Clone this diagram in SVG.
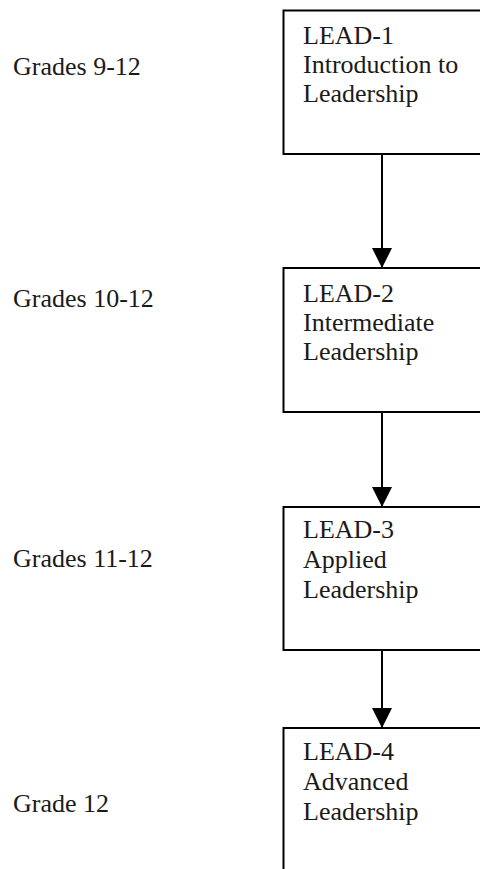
<svg xmlns="http://www.w3.org/2000/svg" width="480" height="869" viewBox="0 0 480 869">
<style>
.box{fill:#fff;stroke:#000;stroke-width:2}
.t{font-family:"Liberation Serif","Times New Roman",serif;font-size:26px;fill:#1a1a1a}
.c{stroke:#000;stroke-width:2;fill:none}
</style>
<defs>
<marker id="ah" viewBox="0 0 20 20" refX="20" refY="10" markerWidth="20" markerHeight="20" markerUnits="userSpaceOnUse" orient="auto">
<path d="M0,0 L20,10 L0,20 Z" fill="#000"/>
</marker>
</defs>
<rect width="480" height="869" fill="#fff"/>
<g id="labels">
<text class="t" x="13" y="75">Grades 9-12</text>
<text class="t" x="13" y="307">Grades 10-12</text>
<text class="t" x="13" y="567">Grades 11-12</text>
<text class="t" x="13" y="812">Grade 12</text>
</g>
<g id="connectors">
<line class="c" x1="382" y1="154" x2="382" y2="268" marker-end="url(#ah)"/>
<line class="c" x1="382" y1="412" x2="382" y2="507" marker-end="url(#ah)"/>
<line class="c" x1="382" y1="650" x2="382" y2="728" marker-end="url(#ah)"/>
</g>
<g id="lead1">
<rect class="box" x="283.5" y="10.5" width="210" height="143.5"/>
<text class="t" x="303" y="44">LEAD-1</text>
<text class="t" x="303" y="73">Introduction to</text>
<text class="t" x="303" y="102">Leadership</text>
</g>
<g id="lead2">
<rect class="box" x="283.5" y="268" width="210" height="144"/>
<text class="t" x="303" y="302">LEAD-2</text>
<text class="t" x="303" y="331">Intermediate</text>
<text class="t" x="303" y="360">Leadership</text>
</g>
<g id="lead3">
<rect class="box" x="283.5" y="507" width="210" height="143"/>
<text class="t" x="303" y="538">LEAD-3</text>
<text class="t" x="303" y="568">Applied</text>
<text class="t" x="303" y="598">Leadership</text>
</g>
<g id="lead4">
<rect class="box" x="283.5" y="728" width="210" height="160"/>
<text class="t" x="303" y="760">LEAD-4</text>
<text class="t" x="303" y="790">Advanced</text>
<text class="t" x="303" y="820">Leadership</text>
</g>
</svg>
